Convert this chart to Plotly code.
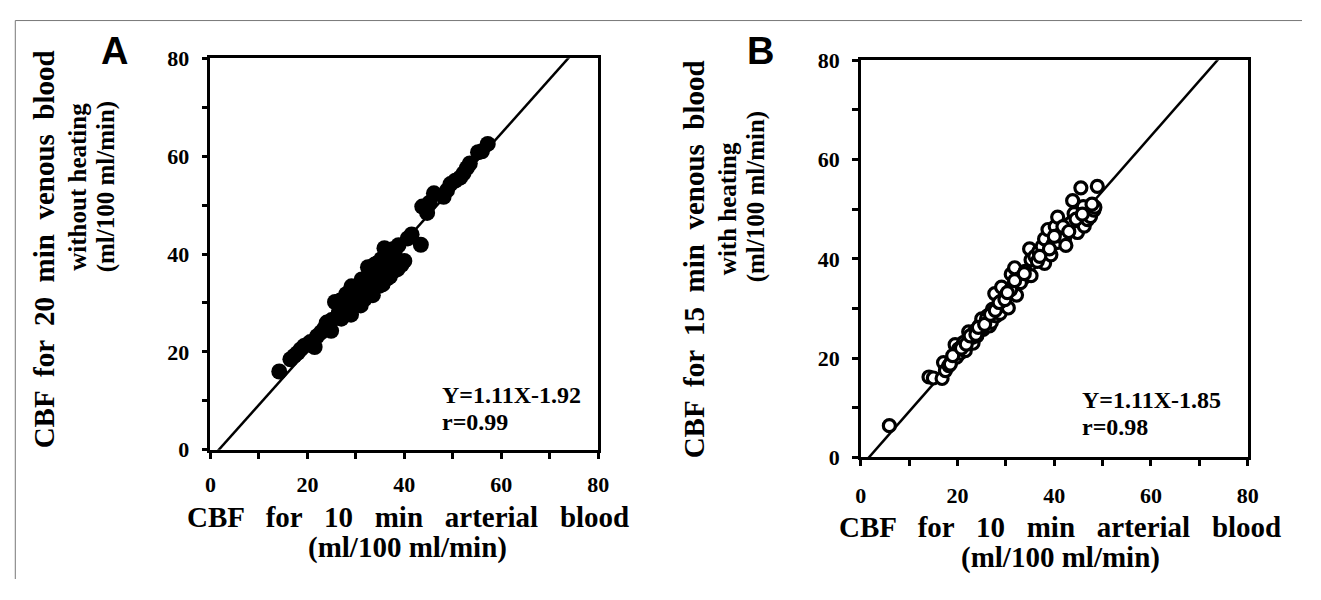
import plotly.graph_objects as go

# figure is placed inside the page's default 8 px body margin
PAGE_W, PAGE_H, BODY = 1321, 600, 8
W, H = PAGE_W - 2 * BODY, PAGE_H - 2 * BODY

# ---------------- data ----------------
a_x = [14.2, 16.5, 17.3, 18.0, 18.6, 19.3, 20.0, 20.6, 21.5, 22.0, 22.8, 23.5, 24.2, 24.9, 25.0,
       25.7, 26.0, 26.5, 27.0, 27.3, 27.8, 28.2, 28.6, 29.0, 29.1, 29.5, 30.0, 30.3, 30.8, 31.0,
       31.4, 31.8, 32.0, 32.5, 32.6, 33.0, 33.3, 33.6, 34.0, 34.2, 34.5, 34.8, 35.0, 35.3, 35.6,
       35.9, 36.0, 36.4, 36.8, 37.0, 37.3, 37.8, 38.0, 38.5, 40.0, 40.7, 41.5, 43.4, 43.7, 44.7,
       45.2, 46.1, 48.1, 48.8, 49.5, 50.5, 51.5, 52.2, 52.9, 53.5, 55.2, 56.0, 57.2,
       26.8, 28.0, 29.8, 31.2, 32.8, 34.6, 36.2, 38.8, 24.0, 27.5, 33.8, 37.6,
       33.5, 35.5, 37.0, 38.6, 39.4, 31.0, 29.0]
a_y = [16.0, 18.5, 19.2, 19.8, 20.5, 21.2, 21.5, 22.0, 21.0, 23.2, 24.0, 24.8, 25.3, 24.3, 26.5,
       30.2, 27.0, 28.0, 26.8, 29.0, 28.2, 30.0, 29.2, 31.5, 33.4, 30.2, 32.5, 29.8, 31.5, 33.5,
       32.2, 30.8, 34.5, 37.3, 33.0, 35.0, 32.5, 36.5, 34.0, 38.0, 35.5, 33.5, 37.0, 39.0, 36.0,
       41.2, 38.5, 35.0, 40.0, 37.0, 39.0, 36.5, 40.5, 38.0, 38.6, 43.2, 44.0, 41.9, 49.7, 48.4,
       50.5, 52.4, 51.7, 53.0, 54.3, 55.0, 55.6, 56.5, 57.6, 58.5, 60.8, 61.0, 62.5,
       30.5, 31.8, 33.0, 34.8, 36.5, 38.2, 40.2, 41.8, 26.0, 28.8, 37.8, 41.0,
       31.6, 33.8, 35.4, 36.9, 37.8, 29.5, 27.6]

b_x = [5.9, 14.1, 15.0, 16.8, 17.1, 17.5, 18.2, 18.8, 19.5, 19.8, 20.5, 21.0, 21.6, 22.0, 22.3,
       22.8, 23.2, 23.6, 24.0, 24.5, 25.0, 25.3, 25.8, 26.2, 26.6, 27.0, 27.4, 27.7, 28.0, 28.4,
       28.8, 29.1, 29.5, 30.0, 30.5, 30.8, 31.1, 31.5, 31.8, 32.2, 32.8, 33.5, 34.0, 34.9, 35.2,
       35.2, 36.0, 36.8, 37.5, 38.0, 38.0, 38.7, 39.3, 39.8, 40.2, 40.7, 40.7, 41.3, 42.1, 42.4,
       42.8, 43.4, 43.8, 44.1, 44.8, 45.5, 46.2, 46.9, 47.5, 48.2, 48.4, 48.9,
       20.2, 21.3, 23.0, 24.8, 26.0, 27.2, 29.0, 31.0, 33.0, 36.5, 39.0, 41.8, 44.5, 46.0,
       18.5, 19.0, 20.8, 21.8, 22.6, 23.8, 24.3, 25.6, 26.8, 27.8, 28.6, 29.8, 30.3, 31.8,
       33.8, 37.0, 40.0, 43.0, 45.8, 47.8]
b_y = [6.4, 16.2, 16.0, 15.9, 19.1, 17.5, 18.5, 19.5, 22.7, 20.2, 21.0, 22.5, 21.5, 23.5, 25.3,
       24.0, 23.0, 25.5, 24.5, 26.5, 27.9, 25.8, 27.0, 28.5, 26.5, 27.2, 29.5, 33.0, 28.5, 30.5,
       29.0, 34.3, 31.5, 30.5, 30.1, 33.0, 36.9, 34.5, 38.2, 32.7, 35.5, 36.0, 37.5, 42.0, 36.6,
       39.8, 40.5, 41.5, 42.5, 39.1, 44.0, 45.9, 40.8, 43.0, 46.5, 48.4, 43.3, 45.0, 44.0, 42.7,
       46.0, 47.2, 51.7, 49.1, 45.3, 54.3, 46.6, 47.9, 48.5, 49.8, 50.4, 54.6,
       21.8, 23.2, 24.2, 26.0, 28.0, 29.8, 31.5, 33.8, 35.2, 39.5, 42.0, 46.5, 48.0, 50.5,
       18.8, 20.5, 22.0, 22.8, 24.5, 24.8, 26.2, 26.8, 28.8, 29.6, 31.2, 31.8, 33.2, 35.6,
       37.0, 40.5, 44.5, 45.5, 49.0, 51.0]

a_slope, a_intercept = 1.11, -1.92
b_slope, b_intercept = 1.11, -1.85
a_eq_text = ["Y=1.11X-1.92", "r=0.99"]
b_eq_text = ["Y=1.11X-1.85", "r=0.98"]

major_ticks = [0, 20, 40, 60, 80]
major_labels = ["0", "20", "40", "60", "80"]

x_title = ["CBF   for   10   min   arterial   blood", "(ml/100 ml/min)"]
a_y_title = ["CBF  for  20  min  venous  blood", "without heating", "(ml/100 ml/min)"]
b_y_title = ["CBF  for  15  min  venous  blood", "with heating", "(ml/100 ml/min)"]

# ---------------- helpers (page pixels -> paper) ----------------
def fx(p):
    return (p - BODY) / W

def fy(p):
    return 1 - (p - BODY) / H

SERIF = "Liberation Serif"
fig = go.Figure()

line_x = [0, 80]
fig.add_trace(go.Scatter(x=line_x, y=[a_slope * v + a_intercept for v in line_x], mode="lines",
                         line=dict(color="black", width=2.5), xaxis="x", yaxis="y",
                         showlegend=False, hoverinfo="skip"))
fig.add_trace(go.Scatter(x=a_x, y=a_y, mode="markers",
                         marker=dict(size=16, color="black", line=dict(width=0)),
                         xaxis="x", yaxis="y", showlegend=False))
fig.add_trace(go.Scatter(x=line_x, y=[b_slope * v + b_intercept for v in line_x], mode="lines",
                         line=dict(color="black", width=2.5), xaxis="x2", yaxis="y2",
                         showlegend=False, hoverinfo="skip"))
fig.add_trace(go.Scatter(x=b_x, y=b_y, mode="markers",
                         marker=dict(size=12, color="white", line=dict(color="black", width=3.2)),
                         xaxis="x2", yaxis="y2", showlegend=False))

tickfont = dict(family=SERIF, size=22, color="black")

def axis(domain, anchor, standoff):
    return dict(domain=domain, anchor=anchor, range=[0, 80], showgrid=False, zeroline=False,
                showline=True, linecolor="black", linewidth=2.5, mirror=True,
                ticks="outside", ticklen=6, tickwidth=2.5, tickcolor="black",
                tickvals=major_ticks, ticktext=["<b>" + t + "</b>" for t in major_labels],
                tickfont=tickfont, ticklabelstandoff=standoff,
                minor=dict(dtick=10, tick0=0, ticks="outside", ticklen=6, tickwidth=2.5,
                           tickcolor="black", showgrid=False))

fig.update_layout(
    width=W, height=H, margin=dict(l=0, r=0, t=0, b=0),
    paper_bgcolor="white", plot_bgcolor="white", showlegend=False,
    font=dict(family=SERIF, color="black"),
    xaxis=axis([fx(207), fx(600)], "y", 7),
    yaxis=axis([fy(457), fy(48)], "x", 8),
    xaxis2=axis([fx(866), fx(1258)], "y2", 10),
    yaxis2=axis([fy(465), fy(50)], "x2", 8),
)

ann = []

def text(x, y, s, size, angle=0, xanchor="center", family=SERIF):
    ann.append(dict(x=fx(x), y=fy(y), xref="paper", yref="paper", text="<b>" + s + "</b>",
                    showarrow=False, textangle=angle, xanchor=xanchor, yanchor="middle",
                    font=dict(family=family, size=size, color="black")))

# panel letters
text(110, 40, "A", 38, family="Liberation Sans")
text(764, 40, "B", 38, family="Liberation Sans")

# x titles
text(407, 527, x_title[0], 29)
text(407, 559, x_title[1], 29)
text(1068, 538, x_title[0], 29)
text(1068, 570, x_title[1], 29)

# y titles
text(38, 248, a_y_title[0], 29, angle=-90)
text(72, 182, a_y_title[1], 25, angle=-90)
text(101, 182, a_y_title[2], 25, angle=-90)
text(697, 258, b_y_title[0], 29, angle=-90)
text(731, 205, b_y_title[1], 25, angle=-90)
text(760, 192, b_y_title[2], 25, angle=-90)

# equations
text(440, 400, a_eq_text[0], 24, xanchor="left")
text(440, 428, a_eq_text[1], 24, xanchor="left")
text(1088, 405, b_eq_text[0], 24, xanchor="left")
text(1088, 433, b_eq_text[1], 24, xanchor="left")

fig.update_layout(annotations=ann)

# outer border (top and left edges)
fig.add_shape(type="line", xref="paper", yref="paper", x0=0.001, x1=1, y0=0.999, y1=0.999,
              line=dict(color="#777", width=1))
fig.add_shape(type="line", xref="paper", yref="paper", x0=0.001, x1=0.001, y0=0.999, y1=0,
              line=dict(color="#777", width=1))

fig.write_html("out.html", config={"displayModeBar": False})
